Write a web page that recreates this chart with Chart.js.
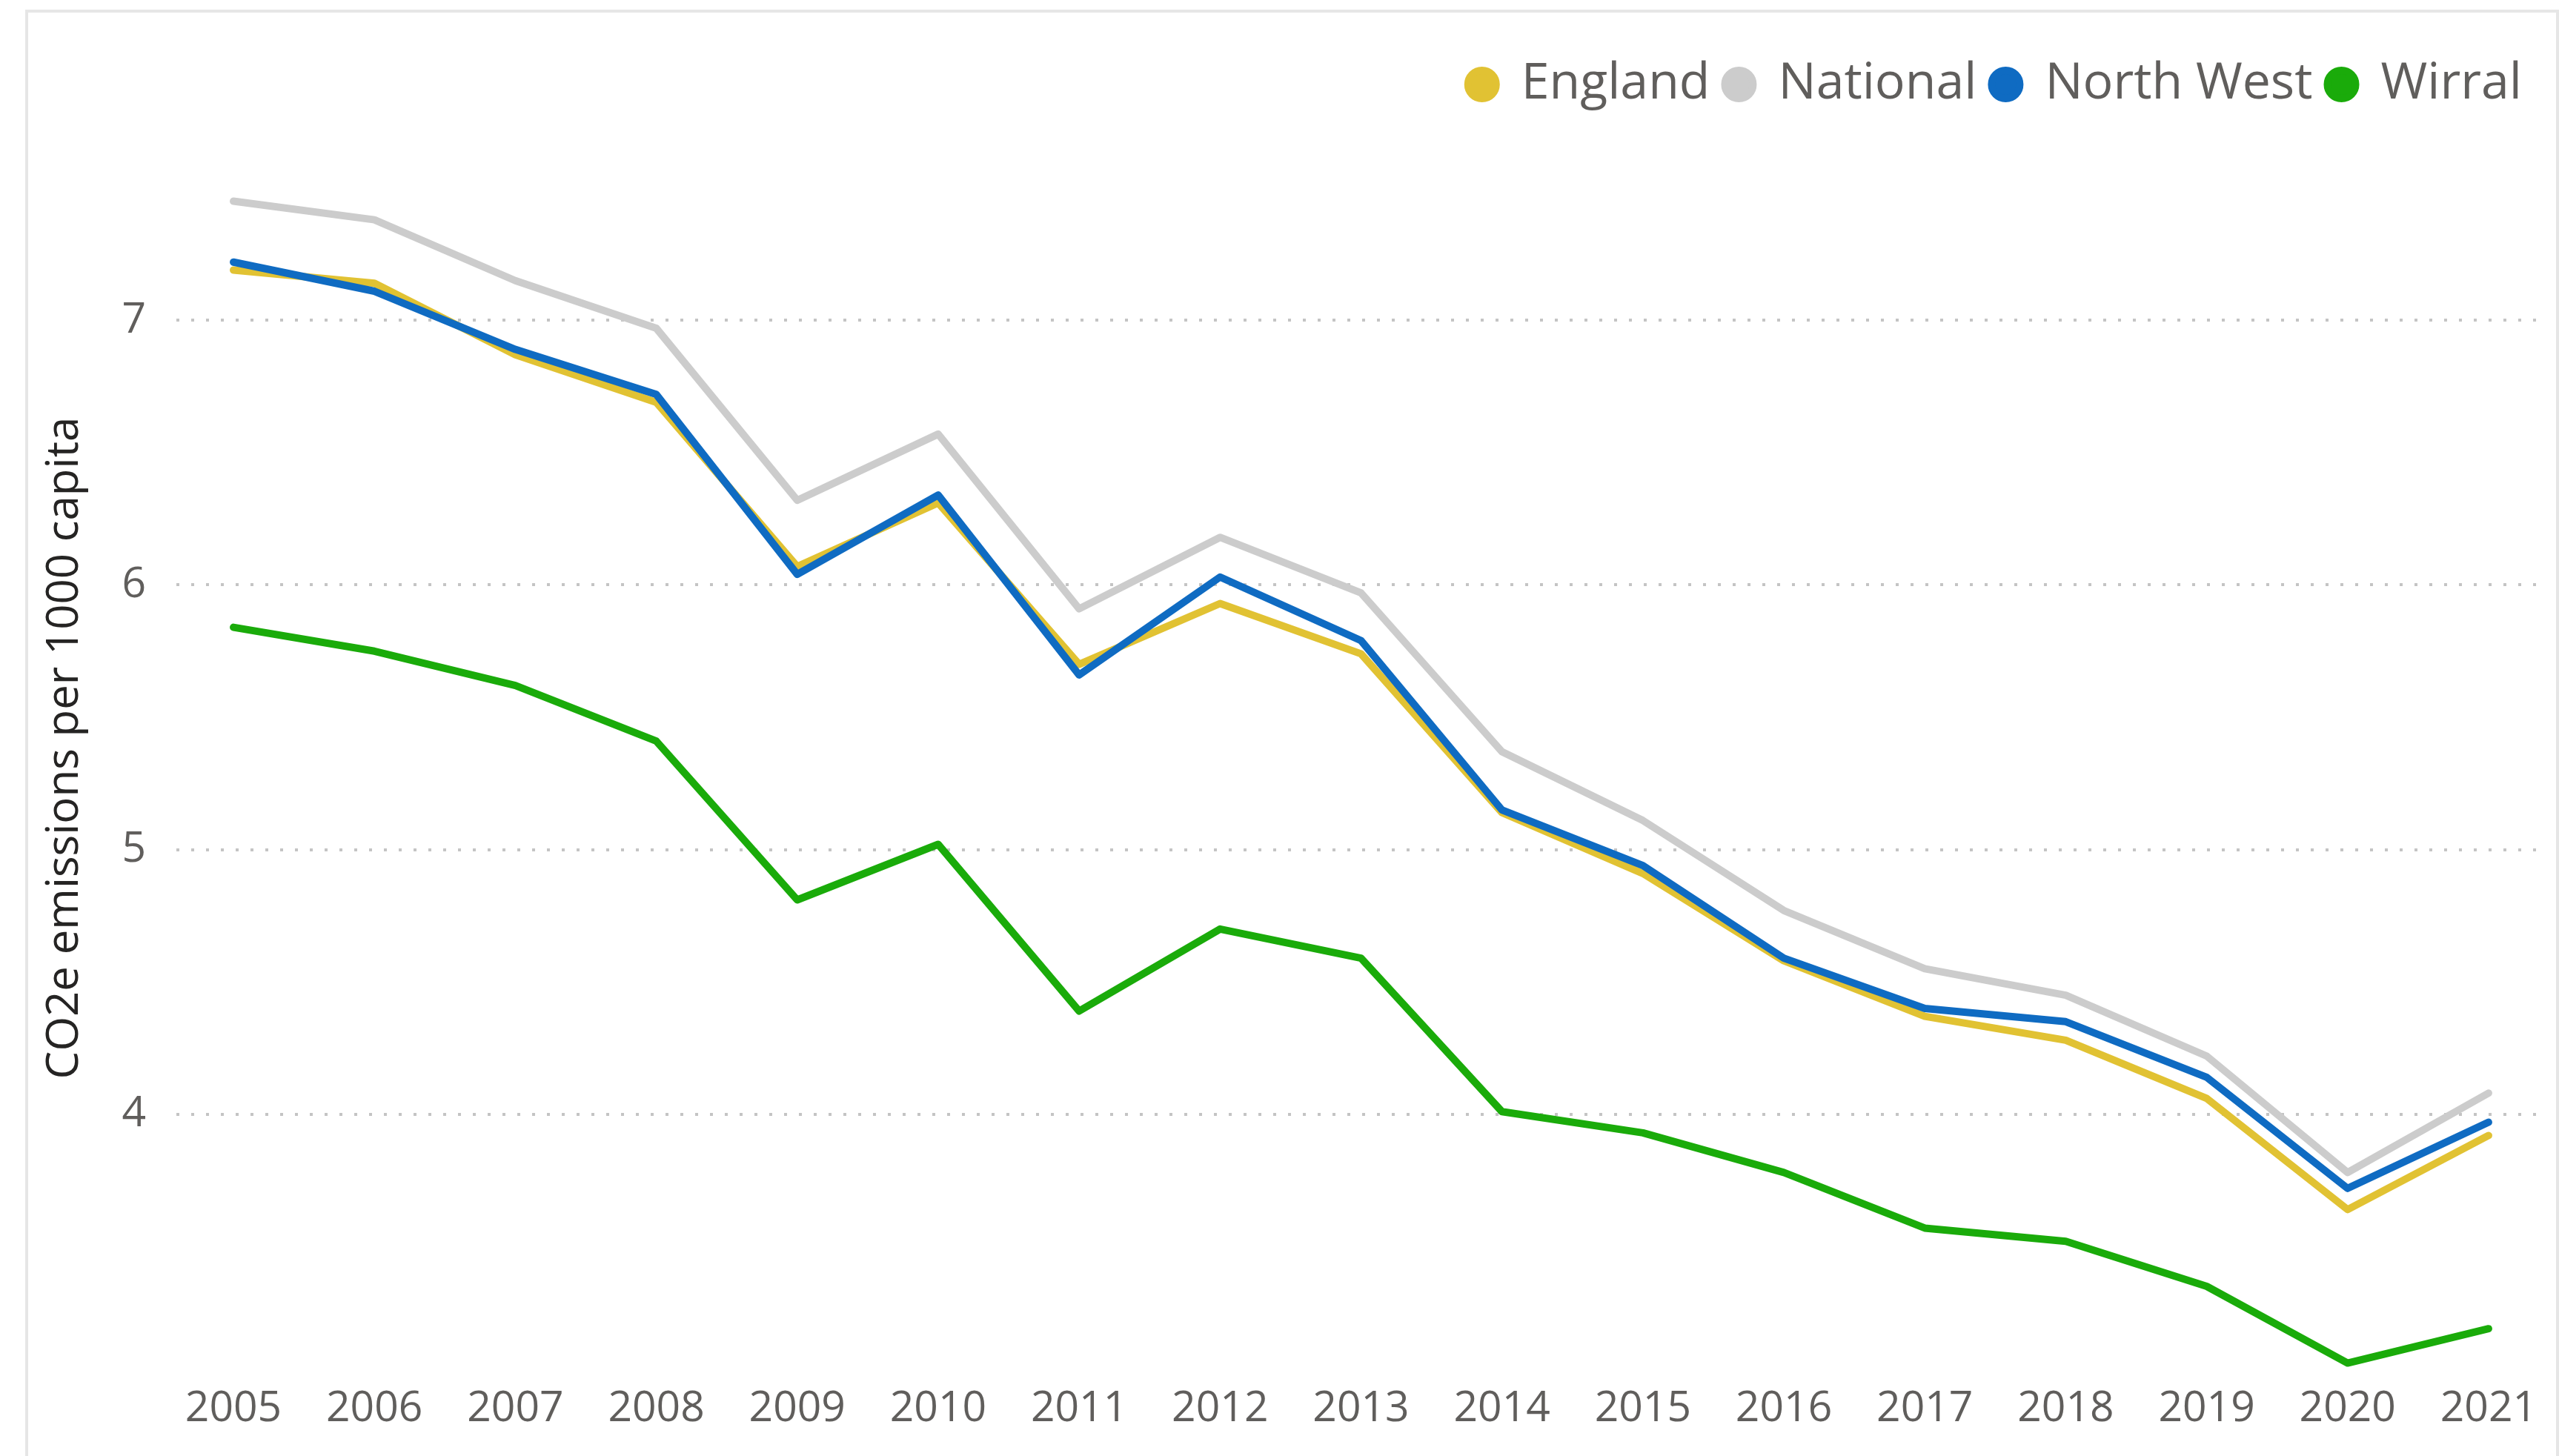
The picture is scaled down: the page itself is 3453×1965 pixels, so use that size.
<!DOCTYPE html>
<html lang="en">
<head>
    <meta charset="UTF-8">
    <title>CO2e emissions per 1000 capita</title>
    <script src="https://cdn.jsdelivr.net/npm/chart.js"></script>
    <style>
        html, body {
            margin: 0;
            padding: 0;
            background: #ffffff;
        }
        .card {
            position: absolute;
            left: 34px;
            top: 13px;
            width: 3411px;
            height: 2000px;
            border: 4px solid #e6e6e6;
            border-bottom: none;
        }
        .chart-container {
            position: absolute;
            left: 0;
            top: 0;
            width: 3453px;
            height: 1965px;
        }
    </style>
</head>
<body>
    <div class="card"></div>
    <div class="chart-container">
        <canvas id="emissionsChart"></canvas>
    </div>

    <script>
        // Years on the x axis
        const years = [2005, 2006, 2007, 2008, 2009, 2010, 2011, 2012, 2013,
                       2014, 2015, 2016, 2017, 2018, 2019, 2020, 2021];

        // Emissions per 1000 capita, one list per area
        const england   = [7.19, 7.14, 6.87, 6.69, 6.07, 6.31, 5.70, 5.93, 5.74,
                           5.14, 4.91, 4.58, 4.37, 4.28, 4.06, 3.64, 3.92];
        const national  = [7.45, 7.38, 7.15, 6.97, 6.32, 6.57, 5.91, 6.18, 5.97,
                           5.37, 5.11, 4.77, 4.55, 4.45, 4.22, 3.78, 4.08];
        const northWest = [7.22, 7.11, 6.89, 6.72, 6.04, 6.34, 5.66, 6.03, 5.79,
                           5.15, 4.94, 4.59, 4.40, 4.35, 4.14, 3.72, 3.97];
        const wirral    = [5.84, 5.75, 5.62, 5.41, 4.81, 5.02, 4.39, 4.70, 4.59,
                           4.01, 3.93, 3.78, 3.57, 3.52, 3.35, 3.06, 3.19];

        // Value axis tick labels
        const yTicks = [4, 5, 6, 7];

        const FONT = '"Segoe UI", "Open Sans", sans-serif';
        const LABEL_GREY = '#605e5c';

        function toPoints(values) {
            return years.map((year, i) => ({ x: year, y: values[i] }));
        }

        function lineSeries(label, values, color, order) {
            return {
                label: label,
                data: toPoints(values),
                borderColor: color,
                backgroundColor: color,
                borderWidth: 10,
                borderCapStyle: 'round',
                borderJoinStyle: 'round',
                pointRadius: 0,
                pointHoverRadius: 0,
                tension: 0,
                fill: false,
                order: order
            };
        }

        const ctx = document.getElementById('emissionsChart').getContext('2d');

        new Chart(ctx, {
            type: 'line',
            data: {
                datasets: [
                    lineSeries('England', england, '#e1c233', 2),
                    lineSeries('National', national, '#cccccc', 3),
                    lineSeries('North West', northWest, '#0f6bc2', 1),
                    lineSeries('Wirral', wirral, '#1aab0a', 0)
                ]
            },
            options: {
                responsive: true,
                maintainAspectRatio: false,
                animation: false,
                layout: {
                    padding: { top: 60, right: 30, bottom: 0, left: 48 }
                },
                plugins: {
                    tooltip: { enabled: false },
                    legend: {
                        display: true,
                        position: 'top',
                        align: 'end',
                        labels: {
                            usePointStyle: true,
                            pointStyle: 'circle',
                            pointStyleWidth: 38,
                            boxHeight: 27,
                            padding: 20,
                            color: LABEL_GREY,
                            font: { family: FONT, size: 68 },
                            sort: (a, b) => a.datasetIndex - b.datasetIndex
                        }
                    }
                },
                scales: {
                    x: {
                        type: 'linear',
                        min: 2004.595,
                        max: 2021.342,
                        grid: { display: false, drawTicks: false },
                        border: { display: false },
                        afterBuildTicks: (scale) => {
                            scale.ticks = years.map(v => ({ value: v }));
                        },
                        afterFit: (scale) => {
                            scale.height = 104;
                        },
                        ticks: {
                            autoSkip: false,
                            maxRotation: 0,
                            padding: 7,
                            color: LABEL_GREY,
                            font: { family: FONT, size: 57 },
                            callback: (value) => String(value)
                        }
                    },
                    y: {
                        min: 3,
                        max: 7.768,
                        grid: {
                            color: '#c4c4c4',
                            lineWidth: 4,
                            drawTicks: false
                        },
                        border: { display: false, dash: [4, 16] },
                        afterBuildTicks: (scale) => {
                            scale.ticks = yTicks.map(v => ({ value: v }));
                        },
                        afterFit: (scale) => {
                            scale.width = 190;
                        },
                        ticks: {
                            padding: 41,
                            color: LABEL_GREY,
                            font: { family: FONT, size: 57 }
                        },
                        title: {
                            display: true,
                            text: 'CO2e emissions per 1000 capita',
                            color: '#252423',
                            font: { family: FONT, size: 60 }
                        }
                    }
                }
            }
        });
    </script>
</body>
</html>
